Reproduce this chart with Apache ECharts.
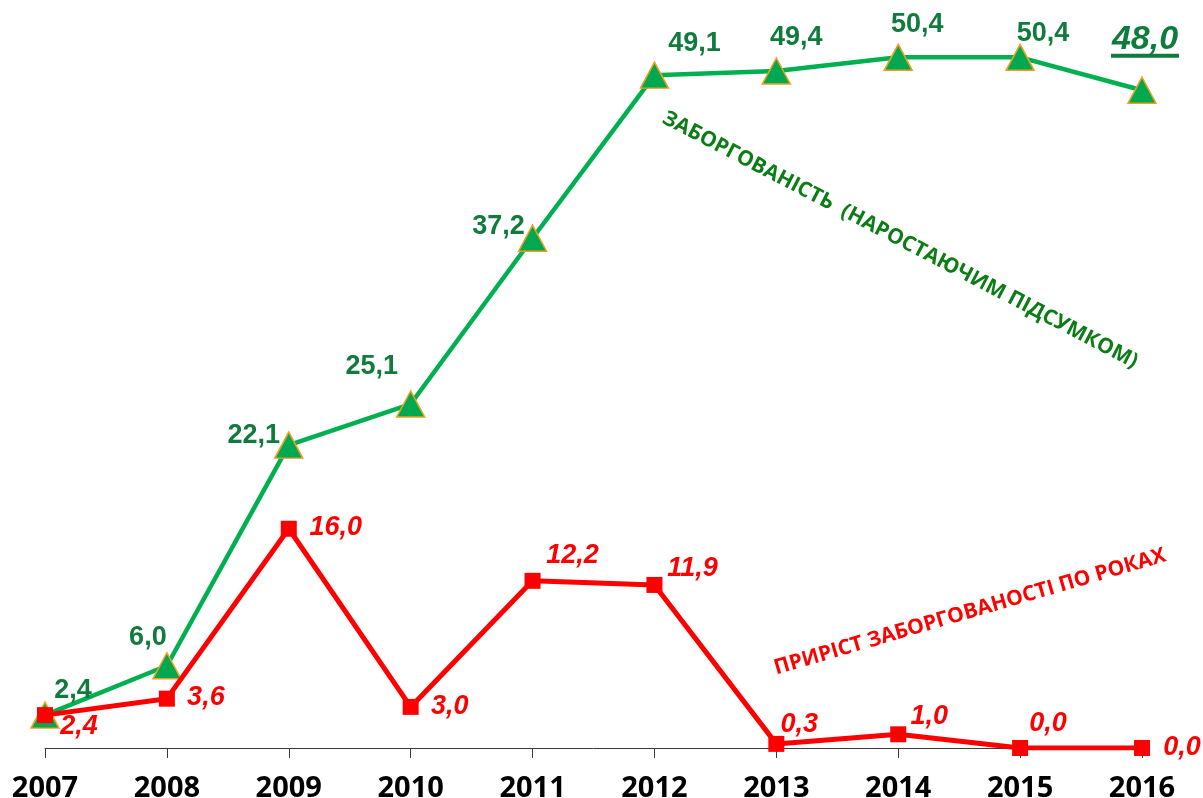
<!DOCTYPE html>
<html>
<head>
<meta charset="utf-8">
<script src="https://cdn.jsdelivr.net/npm/echarts@6/dist/echarts.min.js"></script>
<style>
  html, body { margin: 0; padding: 0; background: #fff; }
  #chart { width: 1203px; height: 798px; }
</style>
</head>
<body>
<div id="chart"></div>
<script>
// Years on the horizontal axis
const years = ['2007', '2008', '2009', '2010', '2011', '2012', '2013', '2014', '2015', '2016'];
// Cumulative arrears
const cumulative = [2.4, 6.0, 22.1, 25.1, 37.2, 49.1, 49.4, 50.4, 50.4, 48.0];
// Yearly increase of arrears
const yearly = [2.4, 3.6, 16.0, 3.0, 12.2, 11.9, 0.3, 1.0, 0.0, 0.0];

// Label offsets (px) from each marker's centre
const cumOffsets = [[28, -25], [-19, -28], [-35, -10], [-39, -37], [-34, -12],
                    [40, -32], [20, -33], [19, -33], [23, -24], [3, -49]];
const yearOffsets = [[34, 11], [39, -1], [47, -1], [39, 0], [40, -25],
                     [38, -16], [23, -19], [31, -18], [28, -24], [40, 0]];

const fmt = v => v.toFixed(1).replace('.', ',');
const VAL_FONT = '"Liberation Sans", Arial, sans-serif';
const AXIS_FONT = '"Noto Sans", sans-serif';
const GREEN_TXT = '#0F7B3C';

const cumData = cumulative.map((v, i) => {
  const last = i === cumulative.length - 1;
  return {
    value: v,
    label: {
      offset: cumOffsets[i],
      formatter: last ? '{big|' + fmt(v) + '}\n{u|}' : fmt(v),
      rich: {
        big: { fontSize: 34, fontWeight: 'bold', fontStyle: 'italic', color: GREEN_TXT,
               fontFamily: VAL_FONT, lineHeight: 29, align: 'center' },
        u: { width: 68, height: 4, backgroundColor: GREEN_TXT, align: 'center', lineHeight: 4 }
      }
    }
  };
});

const yearData = yearly.map((v, i) => ({
  value: v,
  label: { offset: yearOffsets[i] }
}));

const chart = echarts.init(document.getElementById('chart'), null, { renderer: 'canvas' });

chart.setOption({
  animation: false,
  backgroundColor: '#ffffff',
  grid: { left: 45, right: 61, top: 8, bottom: 50, containLabel: false, outerBoundsMode: 'none' },
  xAxis: {
    type: 'category',
    data: years,
    boundaryGap: false,
    axisLine: { show: true, lineStyle: { color: '#3a3a3a', width: 1 } },
    axisTick: { show: true, length: 10, inside: false, alignWithLabel: true,
                lineStyle: { color: '#3a3a3a', width: 1 } },
    axisLabel: { color: '#000', fontSize: 29, fontWeight: 'bold', fontFamily: AXIS_FONT,
                 margin: 26, lineHeight: 29 },
    splitLine: { show: false }
  },
  yAxis: {
    type: 'value',
    min: 0,
    max: 54,
    show: false,
    splitLine: { show: false }
  },
  series: [
    {
      name: 'Заборгованість',
      type: 'line',
      data: cumData,
      symbol: 'triangle',
      symbolSize: [28, 26],
      lineStyle: { color: '#00B050', width: 4.5 },
      itemStyle: { color: '#00A84F', borderColor: '#F0A020', borderWidth: 1.5 },
      label: {
        show: true,
        position: 'inside',
        formatter: p => fmt(p.value),
        color: GREEN_TXT,
        fontSize: 27,
        fontWeight: 'bold',
        fontFamily: VAL_FONT,
        align: 'center',
        verticalAlign: 'middle'
      },
      z: 2
    },
    {
      name: 'Приріст',
      type: 'line',
      data: yearData,
      symbol: 'rect',
      symbolSize: 16,
      lineStyle: { color: '#FF0000', width: 5 },
      itemStyle: { color: '#FF0000' },
      label: {
        show: true,
        position: 'inside',
        formatter: p => fmt(p.value),
        color: '#FF0000',
        fontSize: 27,
        fontWeight: 'bold',
        fontStyle: 'italic',
        fontFamily: VAL_FONT,
        align: 'center',
        verticalAlign: 'middle'
      },
      z: 3
    }
  ],
  graphic: [
    {
      type: 'text',
      x: 900, y: 240,
      rotation: -0.48,
      style: {
        text: 'ЗАБОРГОВАНІСТЬ  (НАРОСТАЮЧИМ ПІДСУМКОМ)',
        fill: '#0B7D14',
        font: 'bold 21px "Open Sans", sans-serif',
        align: 'center',
        verticalAlign: 'middle'
      }
    },
    {
      type: 'text',
      x: 970, y: 612,
      rotation: 0.283,
      style: {
        text: 'ПРИРІСТ ЗАБОРГОВАНОСТІ ПО РОКАХ',
        fill: '#FF0000',
        font: 'bold 21px "Open Sans", sans-serif',
        align: 'center',
        verticalAlign: 'middle'
      }
    }
  ]
});
</script>
</body>
</html>
